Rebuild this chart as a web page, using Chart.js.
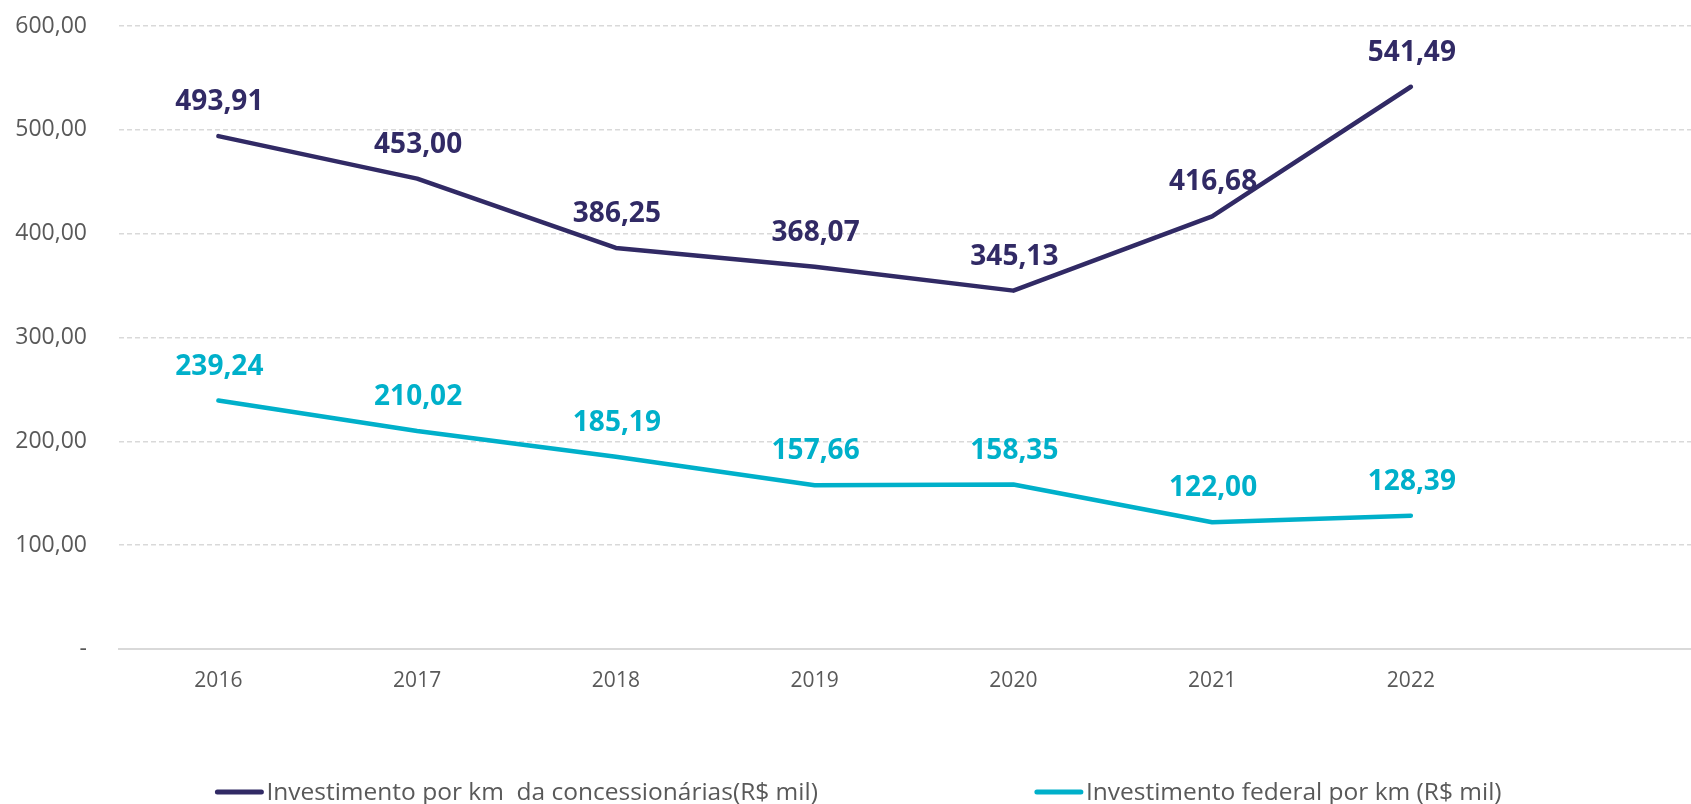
<!DOCTYPE html>
<html>
<head>
<meta charset="utf-8">
<script src="https://cdn.jsdelivr.net/npm/chart.js@4.4.0/dist/chart.umd.min.js"></script>
<style>
  body { margin: 0; background: #fff; overflow: hidden; }
  #wrap { width: 1709px; height: 804px; }
</style>
</head>
<body>
<div id="wrap"><canvas id="investChart"></canvas></div>
<script>
// Years on the x axis (last slot left empty)
const years = ["2016", "2017", "2018", "2019", "2020", "2021", "2022", ""];

// Investment per km, R$ thousand
const concessionarias = [493.91, 453.0, 386.25, 368.07, 345.13, 416.68, 541.49, null];
const federal = [239.24, 210.02, 185.19, 157.66, 158.35, 122.0, 128.39, null];

const seriesNames = [
  "Investimento por km  da concessionárias(R$ mil)",
  "Investimento federal por km (R$ mil)",
];

const navy = "#312a65";
const cyan = "#00b0ca";
const gray = "#595959";
const fontFamily = "'Open Sans', sans-serif";

// Brazilian-style number format: 493,91
function fmt(v) {
  return v.toFixed(2).replace(".", ",");
}

// Value labels above each point
const valueLabels = {
  id: "valueLabels",
  afterDatasetsDraw(chart) {
    const ctx = chart.ctx;
    ctx.save();
    ctx.font = "bold 28px " + fontFamily;
    ctx.textAlign = "center";
    ctx.textBaseline = "middle";
    chart.data.datasets.forEach((ds, i) => {
      const meta = chart.getDatasetMeta(i);
      meta.data.forEach((pt, j) => {
        const v = ds.data[j];
        if (v == null) return;
        ctx.fillStyle = ds.borderColor;
        ctx.fillText(fmt(v), pt.x + 1, pt.y - 34);
      });
    });
    ctx.restore();
  },
};

// Legend drawn at the bottom with a short line swatch
const lineLegend = {
  id: "lineLegend",
  afterDraw(chart) {
    const ctx = chart.ctx;
    const swatch = 48;
    const gapText = 3;
    const gapItems = 217;
    const y = 792;
    ctx.save();
    ctx.font = "24.5px " + fontFamily;
    ctx.textBaseline = "middle";
    const items = chart.data.datasets.map((ds) => ({
      label: ds.label,
      color: ds.borderColor,
      w: swatch + gapText + ctx.measureText(ds.label).width,
    }));
    const total = items.reduce((s, it) => s + it.w, 0) + gapItems * (items.length - 1);
    let x = chart.width / 2 + 4 - total / 2;
    items.forEach((it) => {
      ctx.strokeStyle = it.color;
      ctx.lineWidth = 5;
      ctx.lineCap = "round";
      ctx.beginPath();
      ctx.moveTo(x + 2, y);
      ctx.lineTo(x + swatch - 2, y);
      ctx.stroke();
      ctx.fillStyle = gray;
      ctx.fillText(it.label, x + swatch + gapText, y + 1);
      x += it.w + gapItems;
    });
    ctx.restore();
  },
};

const ctx = document.getElementById("investChart").getContext("2d");
new Chart(ctx, {
  type: "line",
  data: {
    labels: years,
    datasets: [
      {
        label: seriesNames[0],
        data: concessionarias,
        borderColor: navy,
        backgroundColor: navy,
        borderWidth: 4.5,
        pointRadius: 0,
        tension: 0,
        borderCapStyle: "round",
        borderJoinStyle: "round",
      },
      {
        label: seriesNames[1],
        data: federal,
        borderColor: cyan,
        backgroundColor: cyan,
        borderWidth: 4.5,
        pointRadius: 0,
        tension: 0,
        borderCapStyle: "round",
        borderJoinStyle: "round",
      },
    ],
  },
  options: {
    responsive: true,
    maintainAspectRatio: false,
    animation: false,
    layout: { padding: { top: 26, left: 14, right: 0, bottom: 111 } },
    plugins: {
      legend: { display: false },
      tooltip: { enabled: false },
    },
    scales: {
      x: {
        offset: true,
        grid: { display: false, drawTicks: false },
        border: { display: true, color: "#d9d9d9", width: 2 },
        ticks: {
          color: gray,
          font: { family: fontFamily, size: 21 },
          padding: 19,
          maxRotation: 0,
          autoSkip: false,
        },
        afterFit: (scale) => {
          scale.height = 44;
        },
      },
      y: {
        min: 0,
        max: 600,
        grid: {
          drawTicks: false,
          lineWidth: 1.5,
          color: (c) => (c.tick.value === 0 ? "rgba(0,0,0,0)" : "#d9d9d9"),
        },
        border: { display: false, dash: [5, 3] },
        ticks: {
          stepSize: 100,
          color: gray,
          padding: 32,
          font: { family: fontFamily, size: 23 },
          callback: (v) => (v === 0 ? "-" : fmt(v)),
        },
        afterFit: (scale) => {
          scale.width = 105;
          scale.paddingTop = 12;
          scale.paddingBottom = 12;
        },
      },
    },
  },
  plugins: [valueLabels, lineLegend],
});
</script>
</body>
</html>
